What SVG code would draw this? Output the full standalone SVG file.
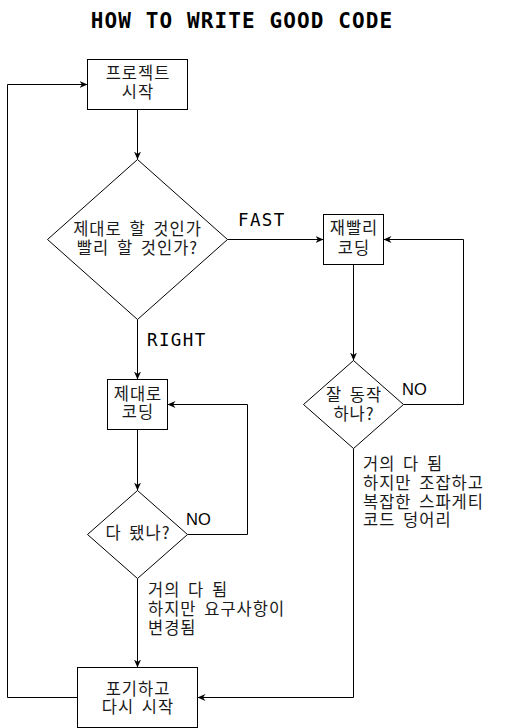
<svg xmlns="http://www.w3.org/2000/svg" width="509" height="728" viewBox="0 0 509 728">
  <style>
    .shape { fill: #ffffff; stroke: #000000; stroke-width: 1; }
    .edge { fill: none; stroke: #000000; stroke-width: 1; }
    .kr { font-family: "Noto Sans CJK KR", "Noto Sans", sans-serif; font-size: 16.5px; letter-spacing: 1px; word-spacing: 3px; fill: #1a1a1a; }
    .mid { text-anchor: middle; }
    .lbl { font-family: "DejaVu Sans Mono", "Liberation Mono", monospace; font-size: 17.5px; letter-spacing: 1.4px; fill: #000000; }
    .no { font-family: "Liberation Sans", Arial, sans-serif; font-size: 16.5px; fill: #000000; }
    .title { font-family: "DejaVu Sans Mono", "Liberation Mono", monospace; font-size: 21px; font-weight: bold; letter-spacing: 1.1px; fill: #000000; text-anchor: middle; }
  </style>
  <defs>
    <marker id="arrow" markerUnits="userSpaceOnUse" markerWidth="9" markerHeight="8" refX="8" refY="3.5" orient="auto">
      <path d="M0,0 L8,3.5 L0,7 L2.5,3.5 Z" fill="#000000"/>
    </marker>
  </defs>
  <rect width="509" height="728" fill="#ffffff"/>

  <text id="title" class="title" x="242" y="27.5">HOW TO WRITE GOOD CODE</text>

  <g id="connectors">
    <path class="edge" d="M137.5,109.5 L137.5,159.5" marker-end="url(#arrow)"/>
    <path class="edge" d="M227.5,239.5 L323.5,239.5" marker-end="url(#arrow)"/>
    <path class="edge" d="M137.5,319.5 L137.5,379.5" marker-end="url(#arrow)"/>
    <path class="edge" d="M353.5,264.5 L353.5,360.5" marker-end="url(#arrow)"/>
    <path class="edge" d="M403.5,404.5 L463.5,404.5 L463.5,239.5 L383.5,239.5" marker-end="url(#arrow)"/>
    <path class="edge" d="M137.5,429.5 L137.5,490.5" marker-end="url(#arrow)"/>
    <path class="edge" d="M187.5,534.5 L247.5,534.5 L247.5,404.5 L167.5,404.5" marker-end="url(#arrow)"/>
    <path class="edge" d="M137.5,578.5 L137.5,667.5" marker-end="url(#arrow)"/>
    <path class="edge" d="M353.5,448.5 L353.5,697.5 L197.5,697.5" marker-end="url(#arrow)"/>
    <path class="edge" d="M77.5,697.5 L7.5,697.5 L7.5,84.5 L87.5,84.5" marker-end="url(#arrow)"/>
    <text class="lbl" x="238" y="226">FAST</text>
    <text class="lbl" x="147" y="345.5">RIGHT</text>
    <text class="no" x="402" y="395">NO</text>
    <text class="no" x="186" y="525">NO</text>
    <text class="kr" x="363" y="470">거의 다 됨</text>
    <text class="kr" x="363" y="489">하지만 조잡하고</text>
    <text class="kr" x="363" y="507.5">복잡한 스파게티</text>
    <text class="kr" x="363" y="526">코드 덩어리</text>
    <text class="kr" x="148" y="596">거의 다 됨</text>
    <text class="kr" x="148" y="615">하지만 요구사항이</text>
    <text class="kr" x="148" y="634">변경됨</text>
  </g>

  <g id="start">
    <rect class="shape" x="87.5" y="59.5" width="100" height="50"/>
    <text class="kr mid" x="138" y="79">프로젝트</text>
    <text class="kr mid" x="138" y="98">시작</text>
  </g>

  <g id="decide">
    <path class="shape" d="M137.5,159.5 L227.5,239.5 L137.5,319.5 L47.5,239.5 Z"/>
    <text class="kr mid" x="137.5" y="235">제대로 할 것인가</text>
    <text class="kr mid" x="137.5" y="254">빨리 할 것인가?</text>
  </g>

  <g id="fast-code">
    <rect class="shape" x="323.5" y="214.5" width="60" height="50"/>
    <text class="kr mid" x="354" y="234">재빨리</text>
    <text class="kr mid" x="354" y="254">코딩</text>
  </g>

  <g id="works">
    <path class="shape" d="M353.5,360.5 L403.5,404.5 L353.5,448.5 L303.5,404.5 Z"/>
    <text class="kr mid" x="354" y="401">잘 동작</text>
    <text class="kr mid" x="354" y="420">하나?</text>
  </g>

  <g id="right-code">
    <rect class="shape" x="107.5" y="379.5" width="60" height="50"/>
    <text class="kr mid" x="138" y="400">제대로</text>
    <text class="kr mid" x="138" y="418">코딩</text>
  </g>

  <g id="done">
    <path class="shape" d="M137.5,490.5 L187.5,534.5 L137.5,578.5 L87.5,534.5 Z"/>
    <text class="kr mid" x="138" y="539">다 됐나?</text>
  </g>

  <g id="restart">
    <rect class="shape" x="77.5" y="667.5" width="120" height="60"/>
    <text class="kr mid" x="138" y="695">포기하고</text>
    <text class="kr mid" x="138" y="713">다시 시작</text>
  </g>
</svg>
